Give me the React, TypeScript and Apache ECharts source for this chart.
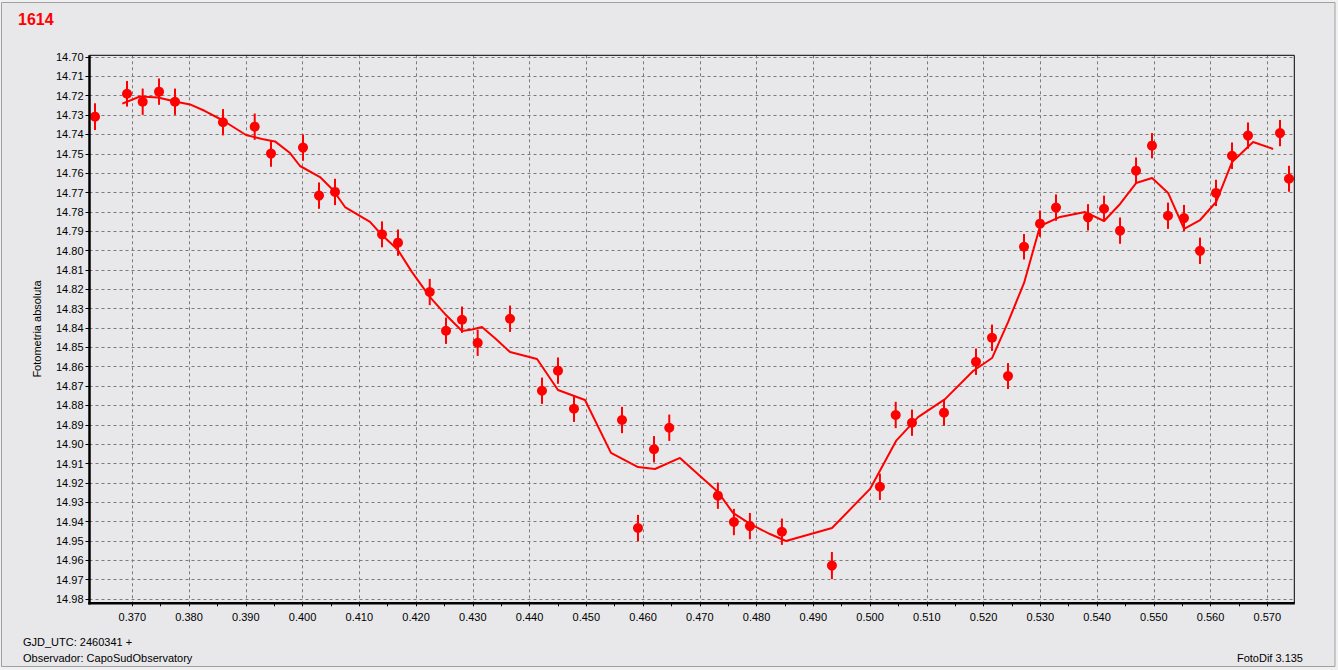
import React, { useEffect, useRef } from "react";
import * as echarts from "echarts";

// Observed points: time (GJD_UTC - 2460341), magnitude, error
const obsX = [
  0.36343, 0.36907, 0.37183, 0.37471, 0.37752, 0.38598, 0.39157, 0.39444, 0.40008, 0.4029,
  0.40572, 0.414, 0.41682, 0.42241, 0.42528, 0.4281, 0.43086, 0.43656, 0.44219, 0.44501,
  0.44783, 0.45629, 0.45911, 0.46193, 0.46462, 0.47319, 0.47601, 0.47883, 0.48447, 0.49328,
  0.50174, 0.50452, 0.50739, 0.51303, 0.51867, 0.52149, 0.52431, 0.52713, 0.52995, 0.53277,
  0.53841, 0.54123, 0.54405, 0.54687, 0.54968, 0.5525, 0.55532, 0.55814, 0.56096, 0.56378,
  0.5666, 0.57224, 0.57382,
];
const obsY = [
  14.7308, 14.719, 14.7231, 14.7179, 14.7231, 14.7337, 14.736, 14.7499, 14.7468, 14.7716,
  14.7697, 14.7916, 14.7959, 14.8214, 14.8414, 14.8357, 14.8476, 14.8352, 14.8724, 14.862,
  14.8817, 14.8875, 14.9433, 14.9026, 14.8915, 14.9266, 14.9402, 14.9423, 14.9452, 14.9627,
  14.922, 14.8849, 14.8889, 14.8837, 14.8574, 14.845, 14.8648, 14.798, 14.7861, 14.7778,
  14.7828, 14.7784, 14.7897, 14.7587, 14.7458, 14.782, 14.7832, 14.8001, 14.7702, 14.751,
  14.7406, 14.7393, 14.7629,
];
const obsErr = [
  0.0069, 0.0066, 0.0068, 0.0068, 0.0068, 0.0068, 0.0068, 0.0068, 0.0068, 0.0068,
  0.0068, 0.0067, 0.0068, 0.0068, 0.0068, 0.0068, 0.0068, 0.0068, 0.0068, 0.0068,
  0.0068, 0.0068, 0.0068, 0.0068, 0.0068, 0.0068, 0.0068, 0.0068, 0.0068, 0.007,
  0.0068, 0.0068, 0.0068, 0.0068, 0.0068, 0.0068, 0.0067, 0.0066, 0.0068, 0.0068,
  0.0068, 0.0068, 0.0068, 0.0068, 0.0065, 0.0068, 0.0068, 0.0068, 0.0068, 0.0068,
  0.0068, 0.0068, 0.0067,
];

// Smoothed fit curve
const fitX = [
  0.36824, 0.37136, 0.37453, 0.37752, 0.38017, 0.38281, 0.38598, 0.39004, 0.39286, 0.39515,
  0.39779, 0.39955, 0.40308, 0.40537, 0.40748, 0.41189, 0.41382, 0.41682, 0.41929, 0.42246,
  0.42528, 0.4281, 0.42986, 0.43162, 0.43427, 0.43656, 0.44132, 0.44501, 0.44977, 0.45435,
  0.45911, 0.4621, 0.46651, 0.47004, 0.47321, 0.47585, 0.47885, 0.48237, 0.48519, 0.4933,
  0.5, 0.50458, 0.50846, 0.51322, 0.51816, 0.5215, 0.52432, 0.52714, 0.52996, 0.53348,
  0.53789, 0.54124, 0.54406, 0.54688, 0.5497, 0.55252, 0.55534, 0.55816, 0.56098, 0.5638,
  0.5675, 0.57103,
];
const fitY = [
  14.7241, 14.7204, 14.7209, 14.723, 14.7245, 14.7279, 14.7328, 14.7403, 14.7424, 14.7436,
  14.7496, 14.7563, 14.762, 14.7687, 14.7775, 14.7852, 14.7914, 14.7997, 14.8111, 14.824,
  14.8333, 14.8415, 14.8408, 14.8395, 14.8462, 14.8524, 14.856, 14.872, 14.8772, 14.9045,
  14.9118, 14.9128, 14.9071, 14.9164, 14.9247, 14.9355, 14.9412, 14.9464, 14.95, 14.9433,
  14.9231, 14.8983, 14.886, 14.8767, 14.8622, 14.8555, 14.8369, 14.8167, 14.7873, 14.7826,
  14.7801, 14.7847, 14.7759, 14.7651, 14.7625, 14.7702, 14.7888, 14.7842, 14.7749, 14.7542,
  14.7439, 14.7475,
];

// Axis ranges
const xFrame = [0.362458, 0.574758];
const yFrame = [14.69912, 14.98218];
const xTickRange = [0.37, 0.57];
const yTickRange = [14.7, 14.98];
const tickStepX = 0.01;
const tickStepY = 0.01;

const title = "1614";
const yName = "Fotometria absoluta";
const footer1 = "GJD_UTC: 2460341 +";
const footer2 = "Observador: CapoSudObservatory";
const footer3 = "FotoDif 3.135";

const RED = "#ff0000";
const FONT = "Liberation Sans";
const GRID_LINE = { color: "#7a7a7a", type: [3, 3], width: 1 };

export default function App() {
  const ref = useRef<HTMLDivElement>(null);

  useEffect(() => {
    if (!ref.current) return;
    const chart = echarts.init(ref.current, null, { renderer: "svg" });

    const pts = obsX.map((x, i) => [x, obsY[i], obsErr[i]]);
    const fit = fitX.map((x, i) => [x, fitY[i]]);

    const frameL = 89.5, frameR = 1294.3, frameT = 55.3, frameB = 603.3;

    const option: any = {
      animation: false,
      backgroundColor: "#f0f0f0",
      grid: [
        { left: frameL, right: 1338 - frameR, top: frameT, bottom: 670 - frameB },
        { left: 132.3, right: 1338 - 1267.3, top: frameT, bottom: 670 - frameB },
        { left: frameL, right: 1338 - frameR, top: 57, bottom: 670 - 599 },
      ],
      xAxis: [
        { type: "value", gridIndex: 0, min: xFrame[0], max: xFrame[1], show: false },
        {
          type: "value",
          gridIndex: 1,
          min: xTickRange[0],
          max: xTickRange[1],
          interval: tickStepX,
          axisLine: { show: false },
          axisTick: { show: true, length: 3, lineStyle: { color: "#000" } },
          minorTick: { show: true, splitNumber: 2, length: 3, lineStyle: { color: "#000" } },
          splitLine: { show: true, lineStyle: GRID_LINE },
          axisLabel: {
            margin: 8,
            color: "#000",
            fontFamily: FONT,
            fontSize: 11,
            formatter: (v: number) => v.toFixed(3),
          },
        },
        { type: "value", gridIndex: 2, min: 0, max: 1, show: false },
      ],
      yAxis: [
        { type: "value", gridIndex: 0, min: yFrame[0], max: yFrame[1], inverse: true, show: false },
        { type: "value", gridIndex: 1, min: 0, max: 1, show: false },
        {
          type: "value",
          gridIndex: 2,
          min: yTickRange[0],
          max: yTickRange[1],
          interval: tickStepY,
          inverse: true,
          axisLine: { show: false },
          axisTick: { show: true, length: 4, lineStyle: { color: "#000" } },
          splitLine: { show: true, lineStyle: GRID_LINE },
          axisLabel: {
            margin: 6,
            color: "#000",
            fontFamily: FONT,
            fontSize: 11,
            formatter: (v: number) => v.toFixed(2),
          },
        },
      ],
      series: [
        {
          type: "line",
          xAxisIndex: 0,
          yAxisIndex: 0,
          data: fit,
          showSymbol: false,
          symbol: "none",
          lineStyle: { color: RED, width: 2, opacity: 1 },
          z: 3,
        },
        {
          type: "custom",
          xAxisIndex: 0,
          yAxisIndex: 0,
          data: pts,
          encode: { x: 0, y: 1 },
          renderItem: (params: any, api: any) => {
            const x = api.value(0);
            const y = api.value(1);
            const e = api.value(2);
            const p1 = api.coord([x, y - e]);
            const p2 = api.coord([x, y + e]);
            return {
              type: "line",
              shape: { x1: p1[0], y1: p1[1], x2: p2[0], y2: p2[1] },
              style: { stroke: RED, lineWidth: 2, opacity: 1 },
            };
          },
          z: 4,
        },
        {
          type: "scatter",
          xAxisIndex: 0,
          yAxisIndex: 0,
          data: pts.map((p) => [p[0], p[1]]),
          symbol: "circle",
          symbolSize: 10,
          itemStyle: { color: RED, opacity: 1 },
          z: 5,
        },
      ],
      graphic: [
        {
          type: "rect",
          z: -10,
          silent: true,
          shape: { x: 1.5, y: 2.5, width: 1333.5, height: 664 },
          style: { fill: "#e8e8ea", stroke: "#a0a0a0", lineWidth: 1 },
        },
        {
          type: "line",
          z: 100,
          shape: { x1: frameL, y1: frameT, x2: frameR, y2: frameT },
          style: { stroke: "#000", lineWidth: 1 },
        },
        {
          type: "line",
          z: 100,
          shape: { x1: frameR, y1: frameT, x2: frameR, y2: frameB },
          style: { stroke: "#000", lineWidth: 1 },
        },
        {
          type: "line",
          z: 100,
          shape: { x1: frameL, y1: frameT, x2: frameL, y2: frameB + 1.2 },
          style: { stroke: "#000", lineWidth: 2.5 },
        },
        {
          type: "line",
          z: 100,
          shape: { x1: frameL - 1.2, y1: frameB, x2: frameR + 0.5, y2: frameB },
          style: { stroke: "#000", lineWidth: 2.5 },
        },
        {
          type: "text",
          z: 100,
          x: 18,
          y: 19.5,
          style: {
            text: title,
            fill: RED,
            font: `bold 16px "${FONT}"`,
            textAlign: "left",
            textVerticalAlign: "middle",
          },
        },
        {
          type: "text",
          z: 100,
          x: 36.7,
          y: 329,
          rotation: Math.PI / 2,
          style: {
            text: yName,
            fill: "#000",
            font: `11px "${FONT}"`,
            textAlign: "center",
            textVerticalAlign: "middle",
          },
        },
        {
          type: "text",
          z: 100,
          x: 23,
          y: 641.7,
          style: {
            text: footer1,
            fill: "#000",
            font: `11px "${FONT}"`,
            textAlign: "left",
            textVerticalAlign: "middle",
          },
        },
        {
          type: "text",
          z: 100,
          x: 23,
          y: 658.3,
          style: {
            text: footer2,
            fill: "#000",
            font: `11px "${FONT}"`,
            textAlign: "left",
            textVerticalAlign: "middle",
          },
        },
        {
          type: "text",
          z: 100,
          x: 1303,
          y: 658.3,
          style: {
            text: footer3,
            fill: "#000",
            font: `11px "${FONT}"`,
            textAlign: "right",
            textVerticalAlign: "middle",
          },
        },
      ],
    };

    chart.setOption(option);
    return () => chart.dispose();
  }, []);

  return (
    <div
      ref={ref}
      style={{ position: "fixed", left: 0, top: 0, width: 1338, height: 670 }}
    />
  );
}
